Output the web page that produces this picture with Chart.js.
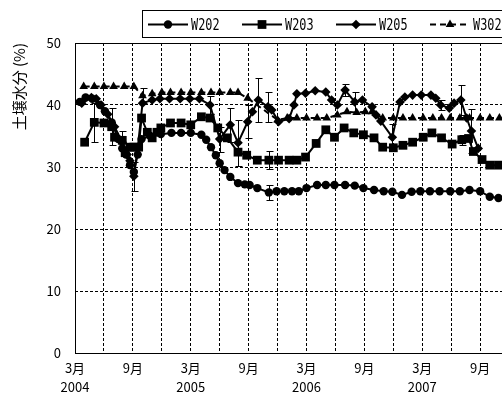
<!DOCTYPE html>
<html>
<head>
<meta charset="utf-8">
<script src="https://cdn.jsdelivr.net/npm/chart.js@4"></script>
<style>
  html, body { margin: 0; padding: 0; overflow: hidden; background: #fff; width: 502px; height: 394px; }
  canvas { display: block; }
</style>
</head>
<body>
<canvas id="soil" width="560" height="394"></canvas>
<script>
// Sampling dates are given in months counted from March 2004 (0 = 3月 2004).
const w202Month = [0.5,1.1,1.8,2.6,3.1,3.8,4.5,4.9,5.3,5.7,6.1,6.5,6.9,7.8,8.9,10.0,11.0,12.0,13.1,13.6,14.1,14.6,15.0,15.5,16.1,16.9,17.6,18.1,18.9,20.1,20.9,21.7,22.5,23.2,24.0,25.1,26.0,26.9,28.0,29.0,29.9,31.0,32.0,32.9,33.9,34.9,35.8,36.8,37.8,38.9,39.9,40.9,42.0,43.0,43.9];
const w202Value = [40.5,41.2,41.0,40.0,39.0,37.2,34.5,33.0,32.0,30.3,29.2,32.0,34.5,35.0,35.3,35.5,35.5,35.5,35.2,34.4,33.2,31.9,30.6,29.5,28.4,27.4,27.2,27.1,26.6,25.9,26.1,26.1,26.1,26.1,26.6,27.1,27.1,27.1,27.1,27.0,26.6,26.3,26.1,26.0,25.5,26.0,26.1,26.1,26.1,26.1,26.1,26.3,26.1,25.2,25.0];
const w202Err   = [0,0,0,0,0,0,0,0,0,0,0,0,0,0,0,0,0,0,0,0,0,0,0,0,0,0,0,0,0,1.2,0,0,0,0,0,0,0,0,0,0,0,0,0,0,0,0,0,0,0,0,0,0,0,0,0];

const w203Month = [1.0,2.0,3.0,3.8,4.1,4.9,5.2,5.7,6.1,6.6,6.9,7.5,8.0,8.5,8.9,9.9,11.0,12.0,13.1,14.0,14.8,15.8,16.9,17.8,18.9,20.1,21.1,22.2,23.0,23.9,25.0,26.0,26.9,27.9,28.9,29.9,31.0,31.9,33.0,34.0,35.0,36.1,37.0,38.0,39.1,40.1,40.8,41.3,42.2,43.0,43.9];
const w203Value = [34.0,37.2,37.1,36.5,34.8,34.3,32.3,33.2,33.2,33.2,37.9,35.6,34.7,35.6,36.3,37.1,37.1,36.8,38.1,37.9,36.3,34.7,32.4,31.9,31.1,31.1,31.1,31.1,31.1,31.6,33.8,36.0,34.8,36.3,35.5,35.2,34.7,33.2,33.1,33.5,34.0,34.8,35.5,34.7,33.7,34.4,34.6,32.5,31.2,30.3,30.3];
const w203Err   = [0,3.1,0,3.0,0,1.5,0,0,0,0,0,0,0,0,0,0,0,0,0,0,0,0,0,0,0,1.5,0,0,0,0,0,0,0,0,0,0,0,0,0,0,0,0,0,0,0,0.8,0,0,0,0,0];

const w205Month = [0.7,1.7,2.2,2.7,3.4,4.1,4.9,5.4,5.7,6.1,6.5,7.0,8.0,8.8,9.8,10.9,11.9,12.9,14.0,15.0,16.1,16.9,17.9,18.4,19.0,20.0,20.4,21.1,22.2,22.7,23.0,23.9,24.9,26.0,26.6,27.2,28.0,29.0,29.8,30.8,31.2,31.7,32.9,33.7,34.2,35.0,35.9,36.9,37.4,37.9,38.8,39.3,40.0,40.6,41.1,41.8];
const w205Value = [40.3,41.2,41.0,40.0,38.5,36.5,34.0,32.0,31.0,28.5,33.0,40.3,40.8,41.0,41.0,41.0,41.0,41.0,40.0,34.5,36.8,33.9,37.3,38.9,40.8,39.7,39.2,37.3,37.8,40.0,41.8,41.9,42.3,42.1,40.8,40.0,42.4,40.5,40.8,39.7,38.4,37.4,34.8,40.5,41.3,41.6,41.6,41.6,41.1,40.0,39.5,40.3,40.8,37.9,35.8,33.0];
const w205Err   = [0,0,0,0,0,0,0,0,0,2.3,0,0,0,0,0,0,0,0,1.4,2.0,2.7,3.7,2.7,0,3.5,2.4,0,0,0,0,0,0,0,0,0,0,1.0,1.6,0,0,0,0,2.2,0,0,0,0,0,0,0.8,0,0,2.4,0,3.6,0];

const w302Month = [0.9,2.0,3.0,4.0,5.1,6.1,7.0,8.0,9.0,9.9,11.0,12.0,13.1,14.1,15.0,16.1,16.9,17.9,21.0,22.0,23.0,24.0,25.1,26.1,27.2,28.2,29.2,30.1,30.8,31.9,33.0,34.0,35.0,36.1,37.1,38.0,38.9,39.9,40.9,42.0,43.0,44.0];
const w302Value = [43.0,43.0,43.0,43.0,43.0,43.0,41.5,41.8,42.0,42.0,42.0,42.0,42.0,42.0,42.0,42.0,42.0,41.1,37.6,37.9,37.9,37.9,37.9,37.9,38.4,38.9,38.8,38.9,38.9,37.9,37.9,37.9,37.9,37.9,37.9,37.9,37.9,37.9,37.9,37.9,37.9,37.9];
const w302Err   = [0,0,0,0,0,0,1.2,0,0,0,0,0,0,0,0,0,0,0,0,0,0,0,0,0,0,0,0,0,0,0,0,0,0,0,0,0,0,0,0,0,0,0];

const seriesNames = ['W202', 'W203', 'W205', 'W302'];
const yearLabels = ['2004', '2005', '2006', '2007', '2008'];
const monthNames = { 0: '3月', 6: '9月' };

const points = (months, values) => months.map((m, i) => ({ x: m, y: values[i] }));

const TICK_FONT = { family: "'Noto Sans CJK JP', sans-serif", size: 13, lineHeight: 1.45 };

// Filled marker shapes used by the legend
function marker(ctx, style, r, x, y) {
  ctx.beginPath();
  if (style === 'circle') {
    ctx.arc(x, y, r, 0, Math.PI * 2);
  } else if (style === 'rect') {
    const s = r * Math.SQRT1_2;
    ctx.rect(x - s, y - s, 2 * s, 2 * s);
  } else if (style === 'rectRot') {
    ctx.moveTo(x - r, y); ctx.lineTo(x, y - r); ctx.lineTo(x + r, y); ctx.lineTo(x, y + r); ctx.closePath();
  } else if (style === 'triangle') {
    ctx.moveTo(x, y - r);
    ctx.lineTo(x + Math.sin(Math.PI * 2 / 3) * r, y - Math.cos(Math.PI * 2 / 3) * r);
    ctx.lineTo(x + Math.sin(Math.PI * 4 / 3) * r, y - Math.cos(Math.PI * 4 / 3) * r);
    ctx.closePath();
  }
  ctx.fill();
}

// Vertical error bars with caps, placed through the chart scales
const errorBars = {
  id: 'errorBars',
  afterDatasetsDraw(chart) {
    const { ctx, scales: { x, y } } = chart;
    ctx.save();
    ctx.strokeStyle = '#000';
    ctx.lineWidth = 1;
    ctx.setLineDash([]);
    chart.data.datasets.forEach(ds => {
      (ds.errors || []).forEach((e, i) => {
        if (!e) return;
        const p = ds.data[i];
        const px = Math.round(x.getPixelForValue(p.x)) + 0.5;
        const top = Math.round(y.getPixelForValue(p.y + e)) + 0.5;
        const bot = Math.round(y.getPixelForValue(p.y - e)) + 0.5;
        ctx.beginPath();
        ctx.moveTo(px, top); ctx.lineTo(px, bot);
        ctx.moveTo(px - 3, top); ctx.lineTo(px + 4, top);
        ctx.moveTo(px - 3, bot); ctx.lineTo(px + 4, bot);
        ctx.stroke();
      });
    });
    ctx.restore();
  }
};

// Solid frame around the plot area
const plotFrame = {
  id: 'plotFrame',
  afterDraw(chart) {
    const { ctx, chartArea: a } = chart;
    ctx.save();
    ctx.strokeStyle = '#000';
    ctx.lineWidth = 1;
    ctx.setLineDash([]);
    ctx.strokeRect(Math.round(a.left) + 0.5, Math.round(a.top) + 0.5, Math.round(a.right - a.left), Math.round(a.bottom - a.top));
    ctx.restore();
  }
};

// Boxed legend across the top
const boxLegend = {
  id: 'boxLegend',
  afterDraw(chart) {
    const ctx = chart.ctx;
    ctx.save();
    ctx.strokeStyle = '#000';
    ctx.fillStyle = '#000';
    ctx.lineWidth = 1;
    ctx.strokeRect(142.5, 10.5, 440, 27);
    const yc = 24.5;
    chart.data.datasets.forEach((ds, i) => {
      const x0 = 148 + i * 94;
      ctx.lineWidth = 2;
      ctx.setLineDash(ds.borderDash || []);
      ctx.beginPath();
      ctx.moveTo(x0, yc); ctx.lineTo(x0 + 40, yc);
      ctx.stroke();
      ctx.setLineDash([]);
      marker(ctx, ds.pointStyle, ds.pointRadius, x0 + 20, yc);
      // tall, narrow lettering
      ctx.save();
      ctx.translate(x0 + 43, yc + 1);
      ctx.scale(0.74, 1);
      ctx.font = "16px 'DejaVu Sans Mono', monospace";
      ctx.textBaseline = 'middle';
      ctx.textAlign = 'left';
      ctx.fillText(ds.label, 0, 0);
      ctx.restore();
    });
    ctx.restore();
  }
};

function series(i, months, values, errs, style, radius, dash, order) {
  return {
    label: seriesNames[i],
    data: points(months, values),
    errors: errs,
    borderColor: '#000',
    backgroundColor: '#000',
    borderWidth: 2,
    borderDash: dash,
    pointStyle: style,
    pointRadius: radius,
    pointBorderWidth: 0,
    pointBackgroundColor: '#000',
    tension: 0,
    order: order
  };
}

new Chart(document.getElementById('soil'), {
  type: 'line',
  data: {
    datasets: [
      series(0, w202Month, w202Value, w202Err, 'circle', 4.2, [], 3),
      series(1, w203Month, w203Value, w203Err, 'rect', 6.2, [], 2),
      series(2, w205Month, w205Value, w205Err, 'rectRot', 4.8, [], 1),
      series(3, w302Month, w302Value, w302Err, 'triangle', 5.0, [6, 4], 0)
    ]
  },
  options: {
    responsive: false,
    animation: false,
    layout: { padding: { top: 43, right: 22, bottom: 0, left: 0 } },
    plugins: { legend: { display: false }, tooltip: { enabled: false } },
    scales: {
      x: {
        type: 'linear',
        min: 0,
        max: 48,
        afterFit: s => { s.height = 41; },
        border: { display: false, dash: [3, 2] },
        grid: { color: '#000', lineWidth: 1, drawTicks: false },
        ticks: {
          stepSize: 3,
          autoSkip: false,
          maxRotation: 0,
          padding: 6,
          color: '#000',
          font: TICK_FONT,
          callback: v => {
            const k = v % 12;
            if (k === 0) return [monthNames[0], yearLabels[v / 12]];
            if (k === 6) return [monthNames[6], ''];
            return '';
          }
        }
      },
      y: {
        min: 0,
        max: 50,
        afterFit: s => { s.width = 75; },
        border: { display: false, dash: [3, 2] },
        grid: { color: '#000', lineWidth: 1, drawTicks: false },
        ticks: { stepSize: 10, padding: 14, color: '#000', font: TICK_FONT },
        title: {
          display: true,
          text: '土壌水分 (%)',
          align: 'end',
          color: '#000',
          font: { family: "'Noto Sans CJK JP', sans-serif", size: 15 },
          padding: { top: 10, bottom: 0 }
        }
      }
    }
  },
  plugins: [errorBars, plotFrame, boxLegend]
});
</script>
</body>
</html>
